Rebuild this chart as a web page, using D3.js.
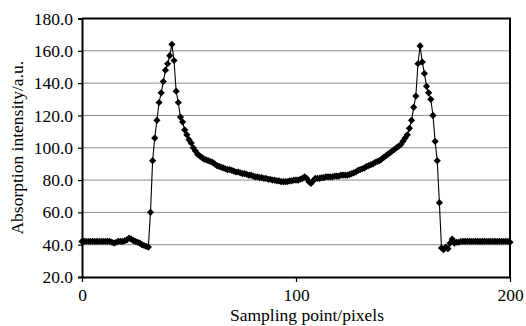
<!DOCTYPE html>
<html>
<head>
<meta charset="utf-8">
<script src="https://cdn.jsdelivr.net/npm/d3@7"></script>
<style>
  body { margin: 0; background: #fff; }
  text { font-family: "Liberation Serif", "DejaVu Serif", serif; fill: #000; }
</style>
</head>
<body>
<div id="chart"></div>
<script>
// absorption intensity, one value per sampling point (0..200)
const intensity = [
  42, 42, 42, 42, 42, 42, 42, 42, 42, 42,
  42, 42, 42, 42, 41.5, 41, 41.5, 42, 42, 42,
  42.5, 43, 44, 43.5, 42.5, 42, 41.5, 41, 40, 39.5,
  39, 38.5, 60, 92, 106, 117, 128, 134, 141, 148,
  152, 157, 164, 154, 135, 128, 119, 116, 111, 108,
  105, 103, 100, 98, 96, 95, 94, 93, 92.5, 92,
  91.5, 91, 90, 89, 88.5, 88, 87.5, 87, 86.5, 86.5,
  86, 85.5, 85, 85, 84.5, 84, 84, 83.5, 83, 83,
  82.5, 82, 82, 81.5, 81.5, 81, 81, 80.5, 80.5, 80,
  80, 79.5, 79.5, 79, 79, 79, 79, 79.5, 79.5, 80,
  80, 80, 80.5, 81, 82, 81, 79, 78, 79.5, 81,
  81, 81, 81.5, 81.5, 82, 82, 82, 82, 82.5, 82.5,
  82.5, 83, 83, 83, 83, 83.5, 84, 84.5, 85, 86,
  86.5, 87, 87.5, 88.5, 89, 89.5, 90, 91, 91.5, 92,
  93, 94, 95, 96, 97, 98, 99, 100, 101, 102,
  104, 106, 108, 112, 117, 125, 132, 152, 163, 153,
  146, 138, 134, 130, 120, 104, 92, 66, 38, 37,
  38.5, 37.5, 41, 43.5, 41, 41.5, 41.5, 42, 42, 42,
  42, 42, 42, 42, 42, 42, 42, 42, 42, 42,
  42, 42, 42, 42, 42, 42, 42, 42, 42, 42,
  41.5
];
const xTicks = [0, 100, 200];
const yTicks = [20, 40, 60, 80, 100, 120, 140, 160, 180];

const W = 526, H = 326;
const plot = { left: 82, right: 510, top: 18.5, bottom: 277 };

const points = intensity.map((v, i) => ({ x: i, y: v }));

const x = d3.scaleLinear().domain([0, 200]).range([plot.left, plot.right]);
const y = d3.scaleLinear().domain([20, 180]).range([plot.bottom, plot.top]);

const svg = d3.select("#chart").append("svg")
    .attr("width", W)
    .attr("height", H);

// horizontal gridlines
svg.append("g")
  .selectAll("line")
  .data(yTicks.filter(t => t > 20 && t < 180))
  .enter().append("line")
    .attr("x1", plot.left).attr("x2", plot.right)
    .attr("y1", d => y(d)).attr("y2", d => y(d))
    .attr("stroke", "#8c8c8c")
    .attr("stroke-width", 1);

// frame top / right
svg.append("path")
    .attr("d", `M${plot.left},${y(180)}H${plot.right}V${plot.bottom}`)
    .attr("fill", "none")
    .attr("stroke", "#000")
    .attr("stroke-width", 2);

// y axis
const yAxis = svg.append("g")
    .attr("transform", `translate(${plot.left},0)`)
    .call(d3.axisLeft(y).tickValues(yTicks).tickSize(4).tickPadding(5).tickFormat(d3.format(".1f")));
yAxis.select(".domain").attr("stroke-width", 2);
yAxis.selectAll(".tick line").attr("stroke-width", 1.2);
yAxis.selectAll("text").style("font-size", "17.5px");

// x axis
const xAxis = svg.append("g")
    .attr("transform", `translate(0,${plot.bottom})`)
    .call(d3.axisBottom(x).tickValues(xTicks).tickSize(5).tickPadding(7).tickSizeOuter(0));
xAxis.select(".domain").attr("stroke-width", 2);
xAxis.selectAll(".tick line").attr("stroke-width", 1.2);
xAxis.selectAll("text").style("font-size", "17.5px");

// data line
svg.append("path")
    .datum(points)
    .attr("fill", "none")
    .attr("stroke", "#000")
    .attr("stroke-width", 1.1)
    .attr("d", d3.line().x(d => x(d.x)).y(d => y(d.y)));

// diamond markers
svg.append("g")
  .selectAll("path")
  .data(points)
  .enter().append("path")
    .attr("d", d3.symbol(d3.symbolSquare, 26))
    .attr("transform", d => `translate(${x(d.x)},${y(d.y)}) rotate(45)`)
    .attr("fill", "#000");

// axis titles
svg.append("text")
    .attr("x", 307)
    .attr("y", 321)
    .attr("text-anchor", "middle")
    .style("font-size", "17.5px")
    .text("Sampling point/pixels");

svg.append("text")
    .attr("transform", `translate(23,${(plot.top + plot.bottom) / 2}) rotate(-90)`)
    .attr("text-anchor", "middle")
    .style("font-size", "17.5px")
    .text("Absorption intensity/a.u.");
</script>
</body>
</html>
